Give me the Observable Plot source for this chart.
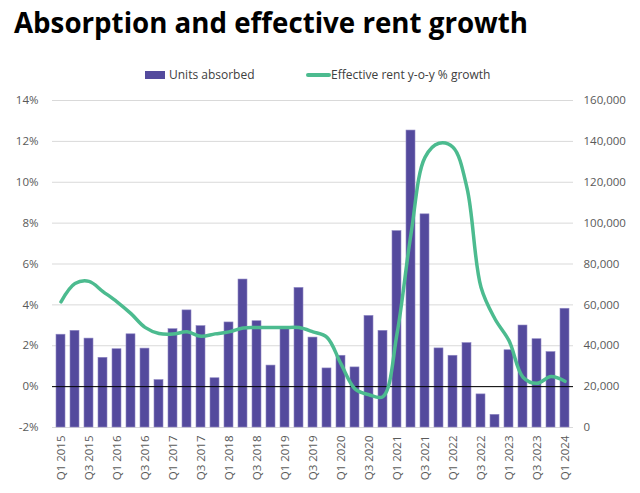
<!DOCTYPE html>
<html><head><meta charset="utf-8">
<script src="https://cdn.jsdelivr.net/npm/d3@7"></script>
<script src="https://cdn.jsdelivr.net/npm/@observablehq/plot@0.6"></script>
<style>
body{margin:0;background:#fff;font-family:"Open Sans",sans-serif;}
#wrap{position:relative;width:640px;height:493px;overflow:hidden;background:#fff}
#title{position:absolute;left:14px;top:3px;font-size:27.7px;font-weight:700;color:#000;white-space:nowrap}
.lg{position:absolute;font-size:12px;color:#404040;white-space:nowrap}
#chart{position:absolute;top:88px;left:0}
</style></head><body>
<div id="wrap">
<div id="title">Absorption and effective rent growth</div>
<div class="lg" style="left:145px;top:71px;width:20px;height:8px;background:#544a9d"></div>
<div class="lg" style="left:169px;top:66px">Units absorbed</div>
<div class="lg" style="left:306px;top:73px;width:25px;height:4px;border-radius:2px;background:#4cbb8f"></div>
<div class="lg" style="left:331px;top:66px">Effective rent y-o-y % growth</div>
<div id="chart"></div>
</div>
<script>
const quarters = ["Q1 2015","Q2 2015","Q3 2015","Q4 2015","Q1 2016","Q2 2016","Q3 2016","Q4 2016",
"Q1 2017","Q2 2017","Q3 2017","Q4 2017","Q1 2018","Q2 2018","Q3 2018","Q4 2018",
"Q1 2019","Q2 2019","Q3 2019","Q4 2019","Q1 2020","Q2 2020","Q3 2020","Q4 2020",
"Q1 2021","Q2 2021","Q3 2021","Q4 2021","Q1 2022","Q2 2022","Q3 2022","Q4 2022",
"Q1 2023","Q2 2023","Q3 2023","Q4 2023","Q1 2024"];
const unitsAbsorbed = [45400,47300,43500,34100,38300,45600,38600,23200,
48100,57300,49600,24100,51400,72400,52000,30300,
48300,68300,44000,28900,35100,29400,54600,47300,
96100,145300,104300,38700,35100,41300,16200,6200,
37800,49900,43200,36900,58100];
const rentGrowth = [4.15,5.04,5.15,4.65,4.15,3.57,2.90,2.60,
2.57,2.68,2.46,2.58,2.68,2.87,2.89,2.89,
2.89,2.89,2.68,2.41,1.11,-0.11,-0.40,-0.49,
2.58,7.47,11.22,11.91,11.71,9.72,4.86,3.31,
2.25,0.46,0.16,0.49,0.26];
const leftTicks = [-2,0,2,4,6,8,10,12,14];
const rightTickLabels = ["0","20,000","40,000","60,000","80,000","100,000","120,000","140,000","160,000"];
const xTickLabels = ["Q1 2015","Q3 2015","Q1 2016","Q3 2016","Q1 2017","Q3 2017","Q1 2018","Q3 2018",
"Q1 2019","Q3 2019","Q1 2020","Q3 2020","Q1 2021","Q3 2021","Q1 2022","Q3 2022","Q1 2023","Q3 2023","Q1 2024"];

const data = quarters.map((q,i)=>({q, units: unitsAbsorbed[i], rent: rentGrowth[i]}));
// right axis (units) mapped onto left (%) scale: 0 units = -2%, 20,000 units per 2%
const toPct = u => u/10000 - 2;

const chart = Plot.plot({
  width:640, height:405,
  marginTop:12, marginBottom:66, marginLeft:52, marginRight:67,
  style:{fontFamily:"Open Sans", fontSize:"11.5px", color:"#595959", background:"#fff"},
  x:{type:"band", domain:quarters, paddingInner:0.34, paddingOuter:0.17, label:null},
  y:{domain:[-2,14], label:null},
  marks:[
    Plot.gridY(leftTicks, {stroke:"#d9d9d9", strokeOpacity:1, strokeWidth:1}),
    Plot.barY(data, {x:"q", y1:-2, y2:d=>toPct(d.units), fill:"#544a9d", stroke:"#8f88c4", strokeWidth:0.6}),
    Plot.ruleY([0], {stroke:"#000", strokeWidth:1}),
    Plot.lineY(data, {x:"q", y:"rent", stroke:"#4cbb8f", strokeWidth:3.5, curve:"catmull-rom"}),
    Plot.axisY(leftTicks, {anchor:"left", label:null, tickSize:0, tickPadding:14, tickFormat:d=>d+"%", fill:"#595959"}),
    Plot.axisY(leftTicks, {anchor:"right", label:null, tickSize:0, tickPadding:10, tickFormat:d=>rightTickLabels[leftTicks.indexOf(d)], textAnchor:"start", fill:"#595959"}),
    Plot.axisX(xTickLabels, {label:null, tickRotate:-90, tickSize:0, tickPadding:8, fill:"#595959"})
  ]
});
document.getElementById("chart").appendChild(chart);
</script>
</body></html>
